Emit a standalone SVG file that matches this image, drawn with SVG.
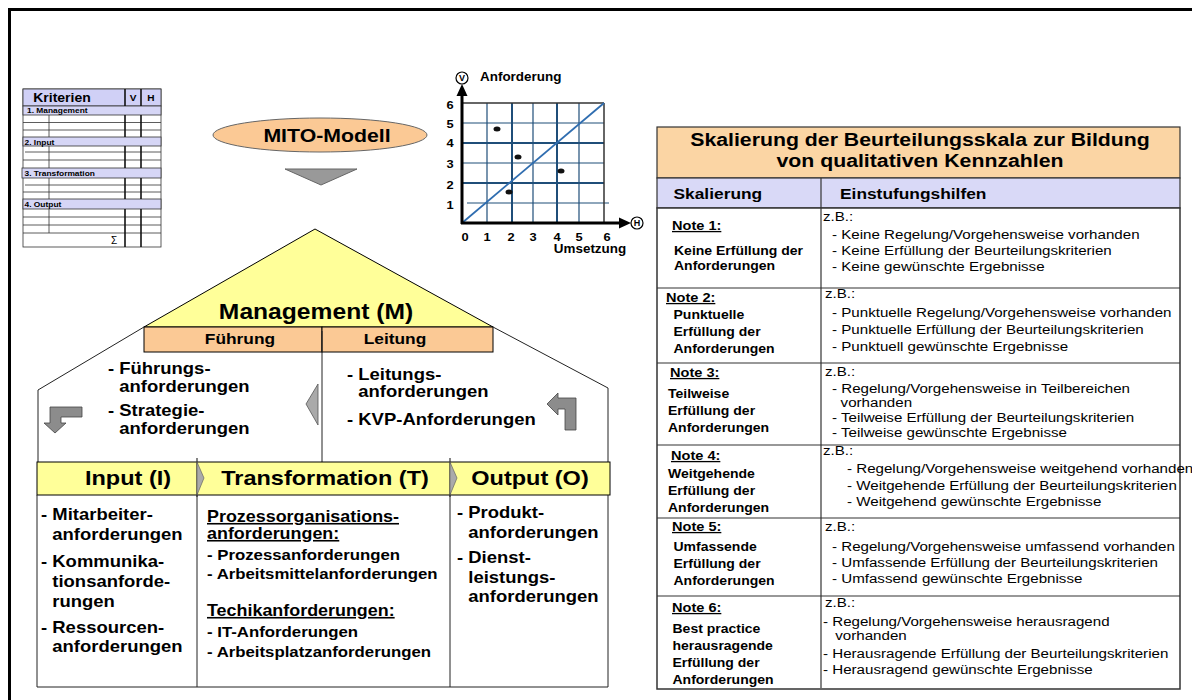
<svg xmlns="http://www.w3.org/2000/svg" width="1192" height="700" viewBox="0 0 1192 700">
<style>
text{font-family:"Liberation Sans",Arial,Helvetica,sans-serif;fill:#000}
.b{font-weight:bold}
.u{text-decoration:underline}
.m{text-anchor:middle}
.ln{stroke:#222;stroke-width:1;fill:none}
.grid{stroke:#1F4E79;stroke-width:1.2}
.gridT{stroke:#1F4E79;stroke-width:2}
.arrow{fill:#8c8c8c;stroke:#444;stroke-width:0.8}
.sec{fill:#D6D6F6;stroke:#333;stroke-width:0.8}
.t165{font-size:16.5px;font-weight:bold}
.t15{font-size:15px;font-weight:bold}
.t16{font-size:16px;font-weight:bold}
.note{font-size:13px;font-weight:bold;text-decoration:underline}
.desc{font-size:12.5px;font-weight:bold}
.reg{font-size:13.5px}
</style>
<rect x="0" y="0" width="1192" height="700" fill="#fff"/>
<!-- outer frame -->
<g id="frame">
<line x1="8" y1="9.5" x2="1192" y2="9.5" stroke="#000" stroke-width="3"/>
<line x1="9.5" y1="8" x2="9.5" y2="700" stroke="#000" stroke-width="3"/>
</g>

<!-- Kriterien table -->
<g id="kriterien">
<rect x="23" y="89" width="138" height="158" fill="#fff" stroke="#333" stroke-width="0.8"/>
<rect x="23" y="89" width="138" height="17" fill="#D0D0F6" stroke="#333" stroke-width="0.8"/>
<rect class="sec" x="23" y="106" width="138" height="9"/>
<rect class="sec" x="23" y="137" width="138" height="9"/>
<rect class="sec" x="22" y="168" width="139" height="10"/>
<rect class="sec" x="23" y="199" width="138" height="10"/>
<g stroke="#333" stroke-width="0.8">
<line x1="23" y1="122.5" x2="161" y2="122.5"/><line x1="23" y1="130" x2="161" y2="130"/>
<line x1="25" y1="152" x2="161" y2="152"/><line x1="23" y1="160" x2="161" y2="160"/>
<line x1="25" y1="185" x2="161" y2="185"/><line x1="23" y1="192" x2="161" y2="192"/>
<line x1="23" y1="217" x2="161" y2="217"/><line x1="23" y1="225" x2="161" y2="225"/>
<line x1="23" y1="233" x2="161" y2="233"/>
<line x1="49" y1="115" x2="49" y2="137"/><line x1="49" y1="146" x2="49" y2="168"/>
<line x1="49" y1="178" x2="49" y2="199"/><line x1="49" y1="209" x2="49" y2="233"/>
</g>
<g stroke="#111" stroke-width="1.6">
<line x1="125" y1="89" x2="125" y2="106"/><line x1="141" y1="89" x2="141" y2="106"/>
<line x1="125" y1="115" x2="125" y2="137"/><line x1="141" y1="115" x2="141" y2="137"/>
<line x1="125" y1="146" x2="125" y2="168"/><line x1="141" y1="146" x2="141" y2="168"/>
<line x1="125" y1="178" x2="125" y2="199"/><line x1="141" y1="178" x2="141" y2="199"/>
<line x1="125" y1="209" x2="125" y2="247"/><line x1="141" y1="209" x2="141" y2="247"/>
</g>
<text class="b m" font-size="12.5" transform="translate(62,101.5) scale(1.12,1)">Kriterien</text>
<text class="b m" font-size="9" transform="translate(133,101) scale(1.12,1)">V</text>
<text class="b m" font-size="9" transform="translate(151,101) scale(1.12,1)">H</text>
<text class="b" font-size="7.5" transform="translate(27,113) scale(1.12,1)">1. Management</text>
<text class="b" font-size="7.5" transform="translate(24.5,144.5) scale(1.12,1)">2. Input</text>
<text class="b" font-size="7.5" transform="translate(24.5,176) scale(1.12,1)">3. Transformation</text>
<text class="b" font-size="7.5" transform="translate(24.5,207) scale(1.12,1)">4. Output</text>
<text class="m" font-size="10" transform="translate(114,244)">Σ</text>
</g>

<!-- MITO-Modell -->
<g id="mito">
<ellipse cx="320" cy="135" rx="107" ry="17" fill="#FBC995" stroke="#666" stroke-width="1"/>
<text class="b m" font-size="19" transform="translate(327,142) scale(1.12,1)">MITO-Modell</text>
</g>

<!-- Chart -->
<g id="chart">
<g class="grid">
<line x1="487" y1="103" x2="487" y2="223"/>
<line x1="533" y1="103" x2="533" y2="223"/>
<line x1="579" y1="103" x2="579" y2="223"/>
<line x1="462" y1="123" x2="604" y2="123"/>
<line x1="462" y1="163" x2="604" y2="163"/>
<line x1="467" y1="203" x2="609" y2="203"/>
</g>
<g class="gridT">
<line x1="512" y1="103" x2="512" y2="223"/>
<line x1="557" y1="103" x2="557" y2="223"/>
<line x1="462" y1="143" x2="604" y2="143"/>
<line x1="462" y1="183" x2="604" y2="183"/>
</g>
<line x1="462" y1="103" x2="604" y2="103" stroke="#333" stroke-width="1.5"/>
<line x1="604" y1="103" x2="604" y2="223" stroke="#333" stroke-width="1.5"/>
<line x1="462" y1="223" x2="604" y2="103" stroke="#2F6DB0" stroke-width="1.8"/>
<line x1="462" y1="224" x2="462" y2="93" stroke="#000" stroke-width="3"/>
<polygon points="462,84 456.5,96 467.5,96" fill="#000"/>
<line x1="461" y1="223" x2="621" y2="223" stroke="#000" stroke-width="3"/>
<polygon points="631,223 619,217.5 619,228.5" fill="#000"/>
<circle cx="462" cy="78" r="6" fill="#fff" stroke="#000" stroke-width="1.2"/>
<text class="b m" font-size="9" x="462" y="81.3">V</text>
<circle cx="637" cy="223" r="6" fill="#fff" stroke="#000" stroke-width="1.2"/>
<text class="b m" font-size="9" x="637" y="226.3">H</text>
<g fill="#111">
<ellipse cx="497" cy="129" rx="3.5" ry="2.5"/>
<ellipse cx="518" cy="157" rx="3.5" ry="2.5"/>
<ellipse cx="509" cy="192" rx="3.5" ry="2.5"/>
<ellipse cx="561" cy="171" rx="3.5" ry="2.5"/>
</g>
<text class="b" font-size="12" transform="translate(480,81) scale(1.12,1)">Anforderung</text>
<g class="b" font-size="11.5">
<text class="m" transform="translate(450,109) scale(1.12,1)">6</text>
<text class="m" transform="translate(450,128) scale(1.12,1)">5</text>
<text class="m" transform="translate(450,147) scale(1.12,1)">4</text>
<text class="m" transform="translate(450,168) scale(1.12,1)">3</text>
<text class="m" transform="translate(450,189) scale(1.12,1)">2</text>
<text class="m" transform="translate(450,209) scale(1.12,1)">1</text>
<text class="m" transform="translate(465,241) scale(1.12,1)">0</text>
<text class="m" transform="translate(487,241) scale(1.12,1)">1</text>
<text class="m" transform="translate(511,241) scale(1.12,1)">2</text>
<text class="m" transform="translate(533,241) scale(1.12,1)">3</text>
<text class="m" transform="translate(557,241) scale(1.12,1)">4</text>
<text class="m" transform="translate(579,241) scale(1.12,1)">5</text>
<text class="m" transform="translate(607,241) scale(1.12,1)">6</text>
</g>
<text class="b m" font-size="12" transform="translate(590,253) scale(1.12,1)">Umsetzung</text>
</g>

<!-- House: Management roof -->
<g id="management">
<polygon points="144,327 315,229 493,327" fill="#FFFF99" stroke="#000" stroke-width="1"/>
<text class="b m" font-size="22" transform="translate(316,319) scale(1.12,1)">Management (M)</text>
</g>
<g id="fuehrung">
<rect x="144" y="327" width="178" height="25" fill="#FBC995" stroke="#000" stroke-width="1"/>
<text class="b m" font-size="15.5" transform="translate(240,344) scale(1.12,1)">Führung</text>
</g>
<g id="leitung">
<rect x="322" y="327" width="171" height="25" fill="#FBC995" stroke="#000" stroke-width="1"/>
<text class="b m" font-size="15.5" transform="translate(395,344) scale(1.12,1)">Leitung</text>
</g>
<g id="walls">
<polyline class="ln" points="144,327 38,390 38,462"/>
<polyline class="ln" points="493,327 608,388 608,462"/>
<line class="ln" x1="322" y1="331" x2="322" y2="462"/>
</g>
<g id="fuehrung-text" transform="translate(108,0) scale(1.12,1)">
<text class="t165" x="0" y="374">- Führungs-</text>
<text class="t165" x="10.1" y="392">anforderungen</text>
<text class="t165" x="0" y="416">- Strategie-</text>
<text class="t165" x="10.1" y="434">anforderungen</text>
</g>
<g id="leitung-text" transform="translate(347,0) scale(1.12,1)">
<text class="t165" x="0" y="380">- Leitungs-</text>
<text class="t165" x="10.1" y="397">anforderungen</text>
<text class="t165" x="0" y="425">- KVP-Anforderungen</text>
</g>

<!-- IO bar -->
<g id="io-bar">
<rect x="37" y="462" width="573" height="33" fill="#FFFF99" stroke="#000" stroke-width="1"/>
<polyline class="ln" points="37,495 37,687 608,687 608,495"/>
<line class="ln" x1="197" y1="495" x2="197" y2="687"/>
<line class="ln" x1="450" y1="495" x2="450" y2="687"/>
</g>
<g id="input">
<text class="b m" font-size="21" transform="translate(128,485) scale(1.12,1)">Input (I)</text>
<g transform="translate(41,0) scale(1.12,1)">
<text class="t165" x="0" y="520">- Mitarbeiter-</text>
<text class="t165" x="10.1" y="540">anforderungen</text>
<text class="t165" x="0" y="567">- Kommunika-</text>
<text class="t165" x="10.1" y="587">tionsanforde-</text>
<text class="t165" x="10.1" y="607">rungen</text>
<text class="t165" x="0" y="633">- Ressourcen-</text>
<text class="t165" x="10.1" y="652">anforderungen</text>
</g>
</g>
<g id="transformation">
<text class="b m" font-size="21" transform="translate(325,485) scale(1.12,1)">Transformation (T)</text>
<g transform="translate(207,0) scale(1.12,1)">
<text class="t16 u" x="0" y="522">Prozessorganisations-</text>
<text class="t16 u" x="0" y="539">anforderungen:</text>
<text class="t15" x="0" y="560">- Prozessanforderungen</text>
<text class="t15" x="0" y="579">- Arbeitsmittelanforderungen</text>
<text class="t16 u" x="0" y="616">Techikanforderungen:</text>
<text class="t15" x="0" y="637">- IT-Anforderungen</text>
<text class="t15" x="0" y="657">- Arbeitsplatzanforderungen</text>
</g>
</g>
<g id="output">
<text class="b m" font-size="21" transform="translate(530,485) scale(1.12,1)">Output (O)</text>
<g transform="translate(457,0) scale(1.12,1)">
<text class="t165" x="0" y="518">- Produkt-</text>
<text class="t165" x="10.1" y="538">anforderungen</text>
<text class="t165" x="0" y="563">- Dienst-</text>
<text class="t165" x="10.1" y="583">leistungs-</text>
<text class="t165" x="10.1" y="602">anforderungen</text>
</g>
</g>

<!-- connectors / flow arrows -->
<g id="connectors">
<polygon points="285,169 357,169 321,185" fill="#999" stroke="#666" stroke-width="1"/>
<polygon class="arrow" points="50,407 82,407 82,417 61,417 61,423 66,423 55,433 44,423 50,423"/>
<polygon class="arrow" points="547,404 558,393 558,398 576,398 576,430 565,430 565,409 558,409 558,415"/>
<polygon points="318,384 306,404 318,425" fill="#aaa" stroke="#555" stroke-width="0.8"/>
<line x1="197" y1="458" x2="197" y2="497" stroke="#333" stroke-width="1.2"/>
<polygon points="197,462 204,478 197,495" fill="#aaa" stroke="#555" stroke-width="0.6"/>
<line x1="450" y1="458" x2="450" y2="497" stroke="#333" stroke-width="1.2"/>
<polygon points="450,462 457,478 450,495" fill="#aaa" stroke="#555" stroke-width="0.6"/>
</g>

<!-- Skalierung table -->
<g id="skalierung">
<rect x="657" y="127" width="523" height="51" fill="#FBD5A4" stroke="#333" stroke-width="1.2"/>
<rect x="657" y="178" width="523" height="30" fill="#D9D9F7" stroke="#333" stroke-width="1.2"/>
<rect x="657" y="208" width="523" height="481" fill="#fff" stroke="#333" stroke-width="1.5"/>
<line x1="821" y1="178" x2="821" y2="688" stroke="#333" stroke-width="1.2"/>
<g stroke="#333" stroke-width="1.2">
<line x1="657" y1="288" x2="1180" y2="288"/>
<line x1="657" y1="363" x2="1180" y2="363"/>
<line x1="657" y1="445" x2="1180" y2="445"/>
<line x1="657" y1="518" x2="1180" y2="518"/>
<line x1="657" y1="596" x2="1180" y2="596"/>
</g>
<text class="b m" font-size="19" transform="translate(920,146) scale(1.12,1)">Skalierung der Beurteilungsskala zur Bildung</text>
<text class="b m" font-size="19" transform="translate(920,167) scale(1.12,1)">von qualitativen Kennzahlen</text>
<text class="b" font-size="15.5" transform="translate(673.5,198.5) scale(1.12,1)">Skalierung</text>
<text class="b" font-size="15.5" transform="translate(840,198.5) scale(1.12,1)">Einstufungshilfen</text>
</g>
<g id="note1">
<text class="note" transform="translate(672,230) scale(1.12,1)">Note 1:</text>
<g transform="translate(674,0) scale(1.12,1)">
<text class="desc" y="255">Keine Erfüllung der</text>
<text class="desc" y="270">Anforderungen</text>
</g>
<text class="reg" transform="translate(823,221) scale(1.12,1)">z.B.:</text>
<g transform="translate(832,0) scale(1.12,1)">
<text class="reg" y="239">- Keine Regelung/Vorgehensweise vorhanden</text>
<text class="reg" y="255">- Keine Erfüllung der Beurteilungskriterien</text>
<text class="reg" y="271">- Keine gewünschte Ergebnisse</text>
</g>
</g>
<g id="note2">
<text class="note" transform="translate(666,302) scale(1.12,1)">Note 2:</text>
<g transform="translate(673.5,0) scale(1.12,1)">
<text class="desc" y="319">Punktuelle</text>
<text class="desc" y="336">Erfüllung der</text>
<text class="desc" y="353">Anforderungen</text>
</g>
<text class="reg" transform="translate(825,298) scale(1.12,1)">z.B.:</text>
<g transform="translate(832,0) scale(1.12,1)">
<text class="reg" y="317">- Punktuelle Regelung/Vorgehensweise vorhanden</text>
<text class="reg" y="334">- Punktuelle Erfüllung der Beurteilungskriterien</text>
<text class="reg" y="351">- Punktuell gewünschte Ergebnisse</text>
</g>
</g>
<g id="note3">
<text class="note" transform="translate(670,377) scale(1.12,1)">Note 3:</text>
<g transform="translate(668,0) scale(1.12,1)">
<text class="desc" y="398">Teilweise</text>
<text class="desc" y="415">Erfüllung der</text>
<text class="desc" y="432">Anforderungen</text>
</g>
<text class="reg" transform="translate(825,376) scale(1.12,1)">z.B.:</text>
<g transform="translate(832,0) scale(1.12,1)">
<text class="reg" y="393">- Regelung/Vorgehensweise in Teilbereichen</text>
<text class="reg" x="7.7" y="407">vorhanden</text>
<text class="reg" y="422">- Teilweise Erfüllung der Beurteilungskriterien</text>
<text class="reg" y="437">- Teilweise gewünschte Ergebnisse</text>
</g>
</g>
<g id="note4">
<text class="note" transform="translate(671,460) scale(1.12,1)">Note 4:</text>
<g transform="translate(668,0) scale(1.12,1)">
<text class="desc" y="478">Weitgehende</text>
<text class="desc" y="495">Erfüllung der</text>
<text class="desc" y="512">Anforderungen</text>
</g>
<text class="reg" transform="translate(823,455) scale(1.12,1)">z.B.:</text>
<g transform="translate(847,0) scale(1.12,1)">
<text class="reg" y="473">- Regelung/Vorgehensweise weitgehend vorhanden</text>
<text class="reg" y="490">- Weitgehende Erfüllung der Beurteilungskriterien</text>
<text class="reg" y="506">- Weitgehend gewünschte Ergebnisse</text>
</g>
</g>
<g id="note5">
<text class="note" transform="translate(672,531) scale(1.12,1)">Note 5:</text>
<g transform="translate(673.5,0) scale(1.12,1)">
<text class="desc" y="551">Umfassende</text>
<text class="desc" y="568">Erfüllung der</text>
<text class="desc" y="585">Anforderungen</text>
</g>
<text class="reg" transform="translate(825,531) scale(1.12,1)">z.B.:</text>
<g transform="translate(832,0) scale(1.12,1)">
<text class="reg" y="551">- Regelung/Vorgehensweise umfassend vorhanden</text>
<text class="reg" y="567">- Umfassende Erfüllung der Beurteilungskriterien</text>
<text class="reg" y="583">- Umfassend gewünschte Ergebnisse</text>
</g>
</g>
<g id="note6">
<text class="note" transform="translate(672,612) scale(1.12,1)">Note 6:</text>
<g transform="translate(672.5,0) scale(1.12,1)">
<text class="desc" y="633">Best practice</text>
<text class="desc" y="650">herausragende</text>
<text class="desc" y="667">Erfüllung der</text>
<text class="desc" y="684">Anforderungen</text>
</g>
<text class="reg" transform="translate(825,607) scale(1.12,1)">z.B.:</text>
<g transform="translate(823,0) scale(1.12,1)">
<text class="reg" y="626">- Regelung/Vorgehensweise herausragend</text>
<text class="reg" x="11" y="640">vorhanden</text>
<text class="reg" y="658">- Herausragende Erfüllung der Beurteilungskriterien</text>
<text class="reg" y="674">- Herausragend gewünschte Ergebnisse</text>
</g>
</g>
</svg>
